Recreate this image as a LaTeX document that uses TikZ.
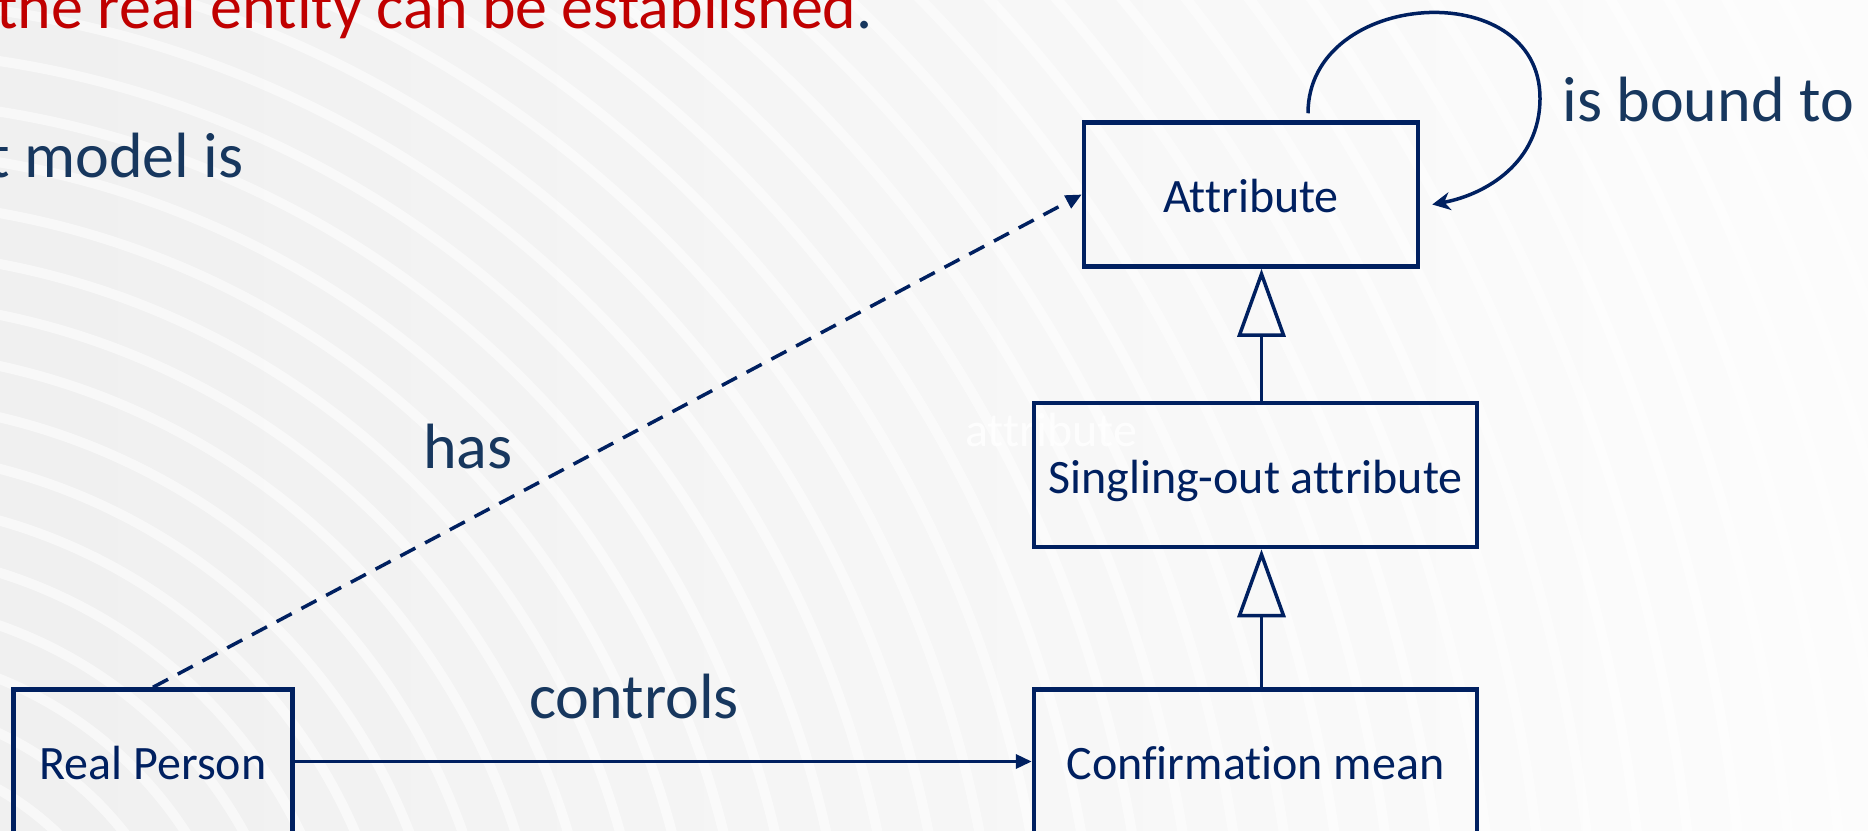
\documentclass[tikz,border=0pt]{standalone}
\usepackage{fontspec}
\setmainfont{Carlito}[Ligatures={NoCommon,NoContextual}]
\usetikzlibrary{positioning,arrows.meta}

\definecolor{umlnavy}{HTML}{002060}
\definecolor{labelnavy}{HTML}{17375E}
\definecolor{alertred}{HTML}{C00000}

\tikzset{
  classbox/.style={draw=umlnavy, line width=2.25pt, text=umlnavy, inner sep=0pt,
    minimum height=72pt, text height=18pt, text depth=0pt,
    font=\fontsize{24}{29}\selectfont},
  rel/.style={draw=umlnavy, line width=1.75pt},
  gen/.style={rel, -{Triangle[open, length=34pt, width=24pt]}},
  assoc/.style={rel, -{Triangle[length=8pt, width=7pt]}},
  lbl/.style={text=labelnavy, inner sep=0pt, anchor=base, font=\fontsize{32}{38}\selectfont},
}

\begin{document}
\begin{tikzpicture}[x=0.5pt, y=-0.5pt]
  % page and swirl background
  \useasboundingbox (0,0) rectangle (1868,830);
  \clip (0,0) rectangle (1868,830);
  \shade[left color=black!6, right color=black!1] (0,0) rectangle (1868,830);
  \foreach \r in {250,300,...,2200}
    \draw[white, line width=5pt, opacity=0.55] (-150,1050) circle[radius=\r];

  % slide text
  \node[anchor=base west, inner sep=0pt, font=\fontsize{32}{38}\selectfont] (title) at (-4,28)
    {\textcolor{alertred}{the real entity can be established}\textcolor{labelnavy}{.}};
  \node[lbl, anchor=base west] (model) at (-12,177) {t model is};
  \node[anchor=west, inner sep=0pt, text=white, opacity=0.8, font=\fontsize{24}{29}\selectfont] (ghost) at (965,430) {attribute};

  % classes
  \node[classbox, minimum width=221.5pt] (sing) at (1255.5,475) {Singling-out attribute};
  \node[classbox, minimum width=167pt, above=66pt of sing, xshift=-2.25pt] (attr) {Attribute};
  \node[classbox, minimum width=221.5pt, below=69pt of sing] (conf) {Confirmation mean};
  \node[classbox, minimum width=139.5pt, left=368.5pt of conf] (rp) {Real Person};

  % relations
  \draw[gen] ([xshift=3pt]conf.north) -- ([xshift=3pt]sing.south);
  \draw[gen] ([xshift=3pt]sing.north) -- ([xshift=3pt]sing.north |- attr.south);
  \draw[assoc] (rp.east) -- (conf.west);
  \draw[assoc, dash pattern=on 8.5pt off 5.5pt] (rp.north) -- (attr.west);
  \draw[rel, -{Stealth[length=9pt, width=9pt]}] ([xshift=28.5pt,yshift=3.5pt]attr.north)
    .. controls +(0,-124) and +(0,-124) .. +(232,-15)
    .. controls +(0,64) and +(54,-10) .. ([xshift=6pt,yshift=-5pt]attr.east);

  % relation names
  \node[lbl] (has) at (468,468) {has};
  \node[lbl] (controls) at (634,718) {controls};
  \node[lbl, anchor=base west] (bound) at (1562,121) {is bound to};
\end{tikzpicture}
\end{document}
